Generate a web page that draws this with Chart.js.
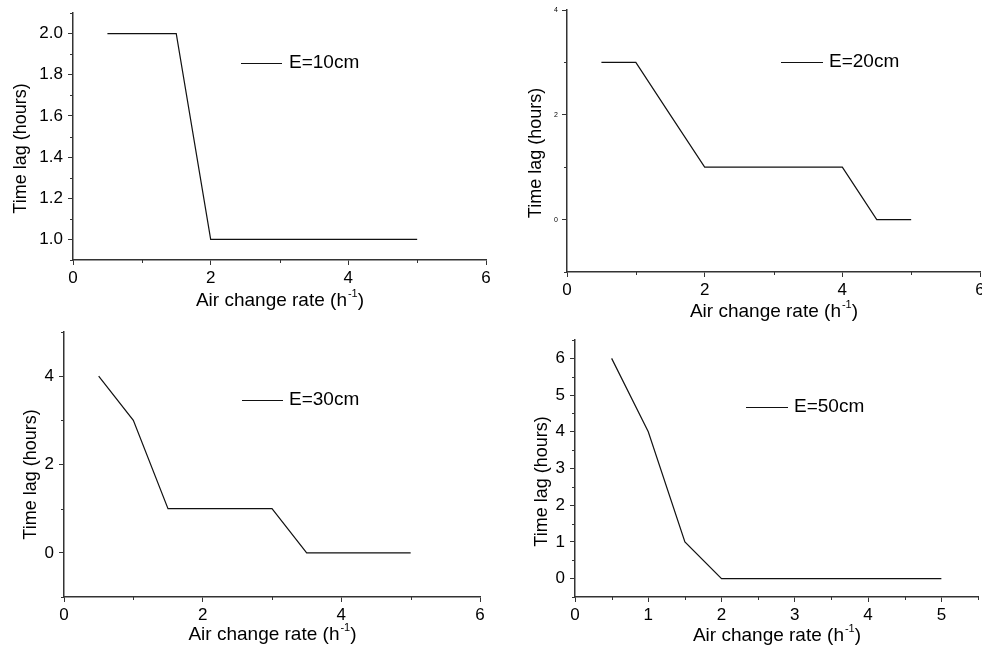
<!DOCTYPE html>
<html>
<head>
<meta charset="utf-8">
<script src="https://cdn.jsdelivr.net/npm/chart.js@4.4.1/dist/chart.umd.min.js"></script>
<style>
  html, body { margin: 0; padding: 0; background: #fff; }
  #wrap { position: relative; width: 982px; height: 647px; overflow: hidden; }
  #wrap canvas { position: absolute; left: 0; top: 0; }
</style>
</head>
<body>
<div id="wrap">
  <canvas id="c10" width="982" height="647"></canvas>
  <canvas id="c20" width="982" height="647"></canvas>
  <canvas id="c30" width="982" height="647"></canvas>
  <canvas id="c50" width="982" height="647"></canvas>
</div>
<script>
// air change rate (h-1), same for every wall thickness
let airChange = [0.5, 1, 1.5, 2, 2.5, 3, 3.5, 4, 4.5, 5];

// time lag in hours for each thickness E
let lagE10 = [2, 2, 2, 1, 1, 1, 1, 1, 1, 1];
let lagE20 = [3, 3, 2, 1, 1, 1, 1, 1, 0, 0];
let lagE30 = [4, 3, 1, 1, 1, 1, 0, 0, 0, 0];
let lagE50 = [6, 4, 1, 0, 0, 0, 0, 0, 0, 0];

let seriesLabels = ['E=10cm', 'E=20cm', 'E=30cm', 'E=50cm'];

let xTitle = ['Air change rate (h', '-1', ')'];
let yTitle = 'Time lag (hours)';

const FONT = '"Liberation Sans", Arial, sans-serif';
const AXIS = '#333';

function isMajor(v, step) {
    let q = v / step;
    return Math.abs(q - Math.round(q)) < 1e-6;
}

// small in-between ticks (the ones whose label is blank)
const minorTicks = {
    id: 'minorTicks',
    afterDraw(chart, args, opts) {
        const {ctx, chartArea, scales} = chart;
        ctx.save();
        ctx.strokeStyle = AXIS;
        ctx.lineWidth = 1;
        ctx.beginPath();
        scales.x.ticks.forEach((t) => {
            if (t.label !== '') return;
            let px = Math.round(scales.x.getPixelForValue(t.value)) + 0.5;
            ctx.moveTo(px, chartArea.bottom);
            ctx.lineTo(px, chartArea.bottom + opts.len);
        });
        scales.y.ticks.forEach((t) => {
            if (t.label !== '') return;
            let py = Math.round(scales.y.getPixelForValue(t.value)) + 0.5;
            ctx.moveTo(chartArea.left, py);
            ctx.lineTo(chartArea.left - opts.len, py);
        });
        ctx.stroke();
        ctx.restore();
    }
};

// axis titles, x title carries a superscript
const axisTitles = {
    id: 'axisTitles',
    afterDraw(chart, args, opts) {
        const {ctx, chartArea} = chart;
        const main = opts.size + 'px ' + FONT;
        const sup = Math.round(opts.size * 0.6) + 'px ' + FONT;
        ctx.save();
        ctx.fillStyle = '#000';
        ctx.textBaseline = 'middle';
        ctx.textAlign = 'left';
        ctx.font = main;
        let w1 = ctx.measureText(xTitle[0]).width;
        let w3 = ctx.measureText(xTitle[2]).width;
        ctx.font = sup;
        let w2 = ctx.measureText(xTitle[1]).width;
        let x = (chartArea.left + chartArea.right) / 2 - (w1 + w2 + w3) / 2;
        let y = chartArea.bottom + opts.xOffset;
        ctx.font = main;
        ctx.fillText(xTitle[0], x, y);
        ctx.font = sup;
        ctx.fillText(xTitle[1], x + w1 + 1, y - opts.size * 0.38);
        ctx.font = main;
        ctx.fillText(xTitle[2], x + w1 + w2 + 1, y);

        ctx.translate(chartArea.left + opts.yOffset, (chartArea.top + chartArea.bottom) / 2 + opts.yShift);
        ctx.rotate(-Math.PI / 2);
        ctx.textAlign = 'center';
        ctx.font = opts.ySize + 'px ' + FONT;
        ctx.fillText(yTitle, 0, 0);
        ctx.restore();
    }
};

// legend: short sample line followed by the series name
const lineKey = {
    id: 'lineKey',
    afterDraw(chart, args, opts) {
        const {ctx, chartArea} = chart;
        const ds = chart.data.datasets[0];
        let x = chartArea.left + opts.dx;
        let y = chartArea.top + opts.dy;
        ctx.save();
        ctx.strokeStyle = ds.borderColor;
        ctx.lineWidth = 1;
        ctx.beginPath();
        ctx.moveTo(x, Math.round(y) + 0.5);
        ctx.lineTo(x + opts.len, Math.round(y) + 0.5);
        ctx.stroke();
        ctx.fillStyle = '#000';
        ctx.font = opts.size + 'px ' + FONT;
        ctx.textBaseline = 'middle';
        ctx.fillText(ds.label, x + opts.len + opts.gap, y);
        ctx.restore();
    }
};

function makePanel(id, values, label, cfg) {
    let fixWidth = (w) => (scale) => {
        scale.width = w;
        scale.paddingTop = 0; scale.paddingBottom = 0;
    };
    let fixHeight = (h) => (scale) => {
        scale.height = h;
        scale.paddingLeft = 0; scale.paddingRight = 0;
    };
    let tickColor = (c) => (c.tick && c.tick.label === '') ? 'rgba(0,0,0,0)' : AXIS;

    new Chart(document.getElementById(id), {
        type: 'scatter',
        data: {
            datasets: [{
                label: label,
                data: airChange.map((a, i) => ({x: a, y: values[i]})),
                showLine: true,
                borderColor: '#111',
                borderWidth: 1.2,
                pointRadius: 0,
                tension: 0
            }]
        },
        options: {
            responsive: false,
            animation: false,
            events: [],
            layout: {
                padding: {
                    left: cfg.area.l - 60,
                    top: cfg.area.t,
                    right: 982 - cfg.area.r,
                    bottom: 647 - cfg.area.b - 30
                }
            },
            scales: {
                x: {
                    type: 'linear',
                    min: cfg.x.min, max: cfg.x.max,
                    afterFit: fixHeight(30),
                    border: {display: true, color: AXIS, width: 1.5},
                    grid: {drawOnChartArea: false, tickLength: 5, tickColor: tickColor},
                    ticks: {
                        stepSize: cfg.x.minor,
                        autoSkip: false,
                        maxRotation: 0,
                        padding: cfg.x.pad,
                        color: '#000',
                        font: {family: FONT, size: cfg.x.size},
                        callback: (v) => isMajor(v, cfg.x.major) ? String(Math.round(v)) : ''
                    }
                },
                y: {
                    type: 'linear',
                    min: cfg.y.min, max: cfg.y.max,
                    afterFit: fixWidth(60),
                    border: {display: true, color: AXIS, width: 1.5},
                    grid: {drawOnChartArea: false, tickLength: 5, tickColor: tickColor},
                    ticks: {
                        stepSize: cfg.y.minor,
                        autoSkip: false,
                        padding: cfg.y.pad,
                        color: '#000',
                        font: {family: FONT, size: cfg.y.size},
                        callback: (v) => isMajor(v, cfg.y.major) ? v.toFixed(cfg.y.dec) : ''
                    }
                }
            },
            plugins: {
                legend: {display: false},
                tooltip: {enabled: false},
                minorTicks: {len: 3},
                axisTitles: cfg.titles,
                lineKey: cfg.key
            }
        },
        plugins: [minorTicks, axisTitles, lineKey]
    });
}

makePanel('c10', lagE10, seriesLabels[0], {
    area: {l: 73, r: 486, t: 13, b: 260},
    x: {min: 0, max: 6, minor: 1, major: 2, size: 17, pad: 3},
    y: {min: 0.9, max: 2.1, minor: 0.1, major: 0.2, dec: 1, size: 17, pad: 5},
    titles: {size: 19, ySize: 18, xOffset: 41, yOffset: -52, yShift: 12},
    key: {dx: 168, dy: 50, len: 41, gap: 7, size: 19}
});

makePanel('c20', lagE20, seriesLabels[1], {
    area: {l: 567, r: 980, t: 10, b: 272},
    x: {min: 0, max: 6, minor: 1, major: 2, size: 17, pad: 3},
    y: {min: -1, max: 4, minor: 1, major: 2, dec: 0, size: 7, pad: 4},
    titles: {size: 19, ySize: 18, xOffset: 40, yOffset: -31, yShift: 12},
    key: {dx: 214, dy: 52, len: 42, gap: 6, size: 19}
});

makePanel('c30', lagE30, seriesLabels[2], {
    area: {l: 64, r: 480, t: 332, b: 597},
    x: {min: 0, max: 6, minor: 1, major: 2, size: 17, pad: 3},
    y: {min: -1, max: 5, minor: 1, major: 2, dec: 0, size: 17, pad: 5},
    titles: {size: 19, ySize: 18, xOffset: 38, yOffset: -33, yShift: 10},
    key: {dx: 178, dy: 68, len: 41, gap: 6, size: 19}
});

makePanel('c50', lagE50, seriesLabels[3], {
    area: {l: 575, r: 978, t: 340, b: 597},
    x: {min: 0, max: 5.5, minor: 0.5, major: 1, size: 17, pad: 3},
    y: {min: -0.5, max: 6.5, minor: 0.5, major: 1, dec: 0, size: 17, pad: 5},
    titles: {size: 19, ySize: 18, xOffset: 39, yOffset: -33, yShift: 13},
    key: {dx: 171, dy: 67, len: 42, gap: 6, size: 19}
});
</script>
</body>
</html>
